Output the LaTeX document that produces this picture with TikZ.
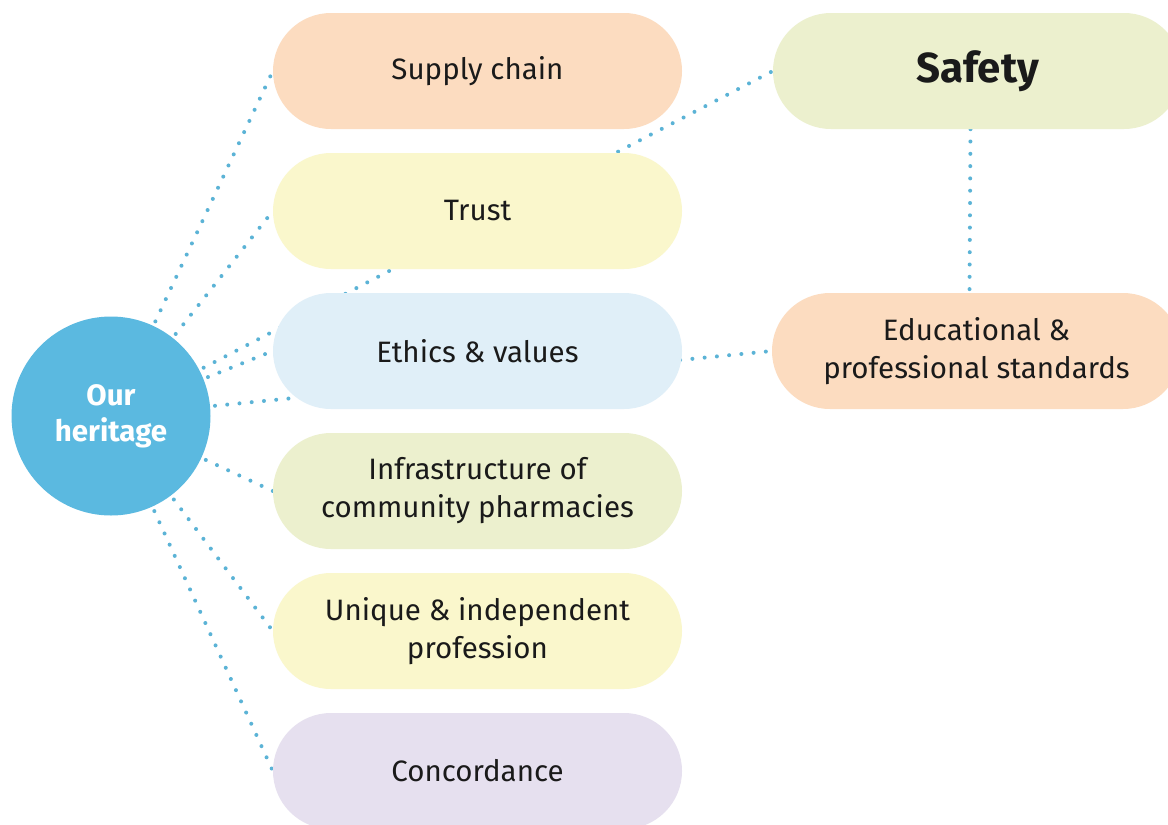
\documentclass[tikz,border=0pt]{standalone}
\usepackage{fontspec}
\setmainfont{Fira Sans}
\usetikzlibrary{backgrounds}
\definecolor{herblue}{HTML}{5BB9E0}
\definecolor{dotblue}{HTML}{5BB3D6}
\definecolor{peach}{HTML}{FCDCC0}
\definecolor{paleyellow}{HTML}{FAF7CC}
\definecolor{paleblue}{HTML}{E0EFF8}
\definecolor{palegreen}{HTML}{ECF0CE}
\definecolor{lavender}{HTML}{E6E0EF}
\definecolor{txt}{HTML}{1A1A1A}
\tikzset{
  pill/.style={rectangle, rounded corners=58pt, minimum width=409pt, minimum height=116pt,
    inner sep=0pt, align=center, text=txt, font=\fontsize{29.5}{38}\selectfont},
  hub/.style={circle, fill=herblue, minimum size=199pt, inner sep=0pt, outer sep=5pt,
    align=center, text=white, font=\bfseries\fontsize{29.5}{36}\selectfont},
  dotline/.style={draw=dotblue, line width=4pt, line cap=round, dash pattern=on 0pt off 12.3pt}
}
\begin{document}
\begin{tikzpicture}[x=1pt,y=-1pt]
\clip (0,0) rectangle (1168,825);
\node[hub] (heritage) at (111,416) {Our\\heritage};
\node[pill, fill=peach] (supply) at (477.5,71) {Supply chain};
\node[pill, fill=paleyellow] (trust) at (477.5,211) {Trust};
\node[pill, fill=paleblue] (ethics) at (477.5,351) {Ethics \& values};
\node[pill, fill=palegreen] (infra) at (477.5,491) {Infrastructure of\\community pharmacies};
\node[pill, fill=paleyellow] (unique) at (477.5,631) {Unique \& independent\\profession};
\node[pill, fill=lavender] (concord) at (477.5,771) {Concordance};
\node[pill, fill=palegreen, font=\bfseries\fontsize{42}{50}\selectfont] (safety) at (977.5,71) {Safety};
\node[pill, fill=peach] (edu) at (976.5,351) {Educational \&\\professional standards};
\begin{scope}[on background layer]
\fill[white] (0,0) rectangle (1168,825);
\draw[dotline] (heritage) -- (supply.west);
\draw[dotline] (heritage) -- (trust.west);
\draw[dotline] (heritage) -- (safety.west);
\draw[dotline] (heritage) -- (ethics.west);
\draw[dotline] (heritage) -- (edu.west);
\draw[dotline] (heritage) -- (infra.west);
\draw[dotline] (heritage) -- (unique.west);
\draw[dotline] (heritage) -- (concord.west);
\draw[dotline] ([xshift=-7pt]safety.south) -- ([xshift=-7pt]edu.north);
\end{scope}
\end{tikzpicture}
\end{document}
